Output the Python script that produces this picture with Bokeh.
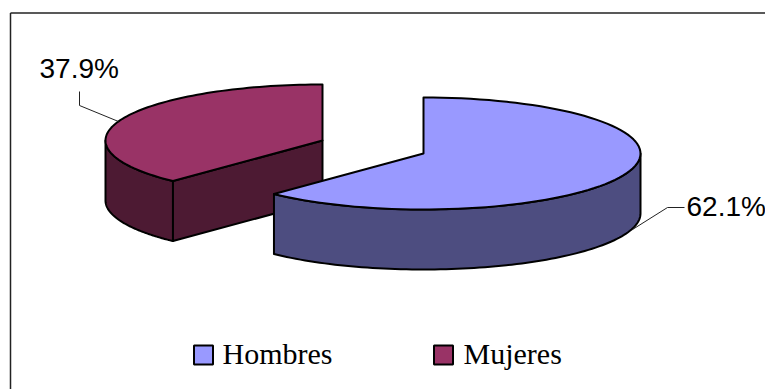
from bokeh.plotting import figure
from bokeh.models import Range1d
from bokeh.embed import file_html
from bokeh.resources import INLINE
from bokeh.core.properties import value
import numpy as np

categories = ["Hombres", "Mujeres"]
shares = [62.1, 37.9]
labels = ["62.1%", "37.9%"]
top_colors = ["#9999FF", "#993366"]
side_colors = ["#4D4D80", "#4D1A33"]

W, H = 765, 389
p = figure(width=W, height=H, x_range=Range1d(0, W), y_range=Range1d(H, 0),
           output_backend="svg", toolbar_location=None, min_border=0,
           outline_line_color=None, x_axis_location=None, y_axis_location=None)
p.grid.visible = False
p.styles = {"position": "absolute", "left": "0px", "top": "0px"}

RX, RY, DEPTH = 217.0, 56.0, 60.0


def arc(cx, cy, a0, a1, n=90):
    """Ellipse points; angles in degrees clockwise from the top of the pie."""
    t = np.radians(np.linspace(a0, a1, n))
    return cx + RX * np.sin(t), cy - RY * np.cos(t)


def draw(xs, ys, fill):
    p.patch(list(xs), list(ys), fill_color=fill, line_color="black", line_width=2, line_join="round")


# frame
p.line([10, 10], [H, 12.5], line_color="#222222", line_width=1.5)
p.line([10, W], [12.5, 12.5], line_color="#222222", line_width=1.5)

sweep_h = shares[0] / 100 * 360
sweep_m = shares[1] / 100 * 360

# Mujeres slice (drawn first, sits behind)
cx, cy = 322.0, 140.0
start_m = sweep_h
end_m = start_m + sweep_m
ax, ay = arc(cx, cy, start_m, 270)
draw(np.r_[ax, ax[::-1]], np.r_[ay, ay[::-1] + DEPTH], side_colors[1])
x0, y0 = ax[0], ay[0]
draw([x0, cx, cx, x0], [y0, cy, cy + DEPTH, y0 + DEPTH], side_colors[1])
tx, ty = arc(cx, cy, start_m, end_m)
draw(np.r_[cx, tx], np.r_[cy, ty], top_colors[1])

# Hombres slice
cx, cy = 423.0, 153.0
ax, ay = arc(cx, cy, 90, sweep_h)
draw(np.r_[ax, ax[::-1]], np.r_[ay, ay[::-1] + DEPTH], side_colors[0])
tx, ty = arc(cx, cy, 0, sweep_h)
draw(np.r_[cx, tx], np.r_[cy, ty], top_colors[0])

# leader lines
p.line([79, 79, 118], [91, 105, 121], line_color="#222222", line_width=1)
p.line([632, 667, 684], [229, 207, 207], line_color="#222222", line_width=1)

# data labels
p.text([686, 39], [206, 68], text=labels, text_font=value("Liberation Sans"),
       text_font_size="28px", text_color="black", text_align="left", text_baseline="middle")

# legend
p.rect([203, 443], [354.5, 354.5], width=19, height=19, fill_color=top_colors,
       line_color="black", line_width=2)
p.text([222, 463], [353, 353], text=categories, text_font=value("Liberation Serif"),
       text_font_size="30px", text_color="black", text_align="left", text_baseline="middle")

open("out.html", "w").write(file_html(p, INLINE))
